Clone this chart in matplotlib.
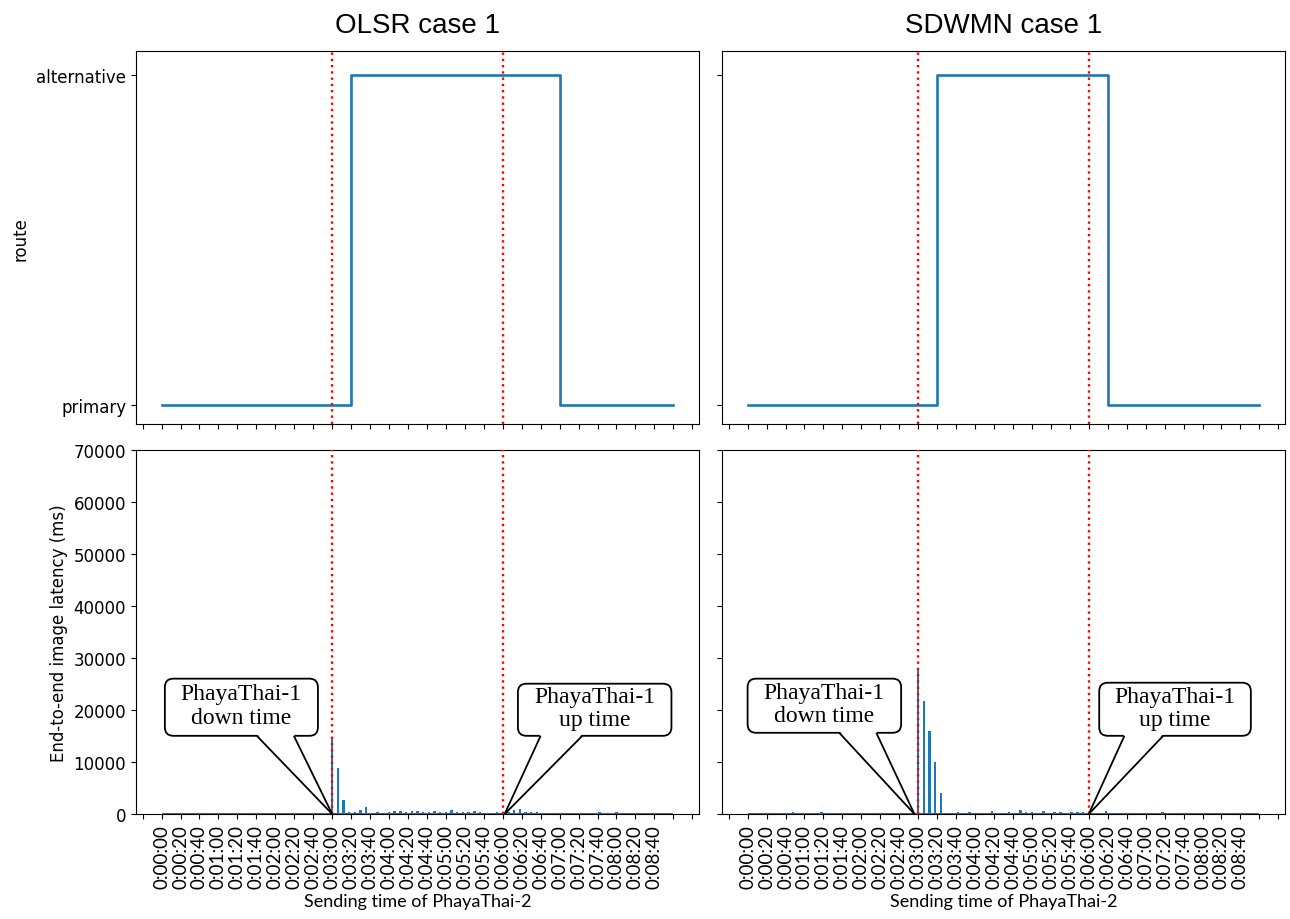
import numpy as np
import matplotlib
matplotlib.use("Agg")
import matplotlib.pyplot as plt
from matplotlib.patches import FancyBboxPatch, Polygon

# sending time of PhayaThai-2 (s) -- one image every 6 s
send_time = [
    0, 6, 12, 18, 24, 30, 36, 42, 48, 54,
    60, 66, 72, 78, 84, 90, 96, 102, 108, 114,
    120, 126, 132, 138, 144, 150, 156, 162, 168, 174,
    180, 186, 192, 198, 204, 210, 216, 222, 228, 234,
    240, 246, 252, 258, 264, 270, 276, 282, 288, 294,
    300, 306, 312, 318, 324, 330, 336, 342, 348, 354,
    360, 366, 372, 378, 384, 390, 396, 402, 408, 414,
    420, 426, 432, 438, 444, 450, 456, 462, 468, 474,
    480, 486, 492, 498, 504, 510, 516, 522, 528, 534,
    540,
]

# end-to-end image latency (ms)
olsr_latency = [
    100, 100, 100, 100, 100, 100, 100, 100, 100, 100,
    100, 100, 100, 100, 100, 100, 100, 100, 100, 100,
    100, 100, 100, 100, 100, 100, 100, 100, 100, 100,
    14800, 8800, 2750, 320, 320, 830, 1280, 250, 320, 150,
    320, 580, 520, 320, 520, 520, 380, 380, 640, 380,
    380, 700, 380, 320, 380, 520, 320, 150, 150, 320,
    150, 450, 770, 960, 320, 320, 320, 150, 150, 250,
    100, 100, 100, 100, 100, 100, 100, 300, 100, 100,
    300, 100, 100, 100, 100, 100, 100, 100, 100, 100,
    100,
]
sdwmn_latency = [
    100, 100, 100, 100, 100, 100, 100, 100, 300, 100,
    100, 100, 100, 300, 100, 100, 100, 100, 100, 100,
    100, 100, 100, 100, 100, 100, 100, 100, 100, 100,
    27900, 21800, 15900, 9950, 3980, 200, 200, 300, 100, 450,
    250, 100, 100, 640, 250, 250, 300, 100, 770, 300,
    300, 100, 580, 250, 300, 300, 100, 400, 400, 400,
    100, 100, 250, 510, 100, 100, 200, 100, 100, 100,
    250, 100, 100, 300, 100, 100, 100, 100, 250, 100,
    100, 100, 100, 100, 100, 100, 100, 100, 100, 100,
    100,
]

# route used (0 = primary, 1 = alternative), step changes
olsr_switch_t = [0, 200, 420, 540]
olsr_route = [0, 1, 0, 0]
sdwmn_switch_t = [0, 200, 380, 540]
sdwmn_route = [0, 1, 0, 0]
route_names = ["primary", "alternative"]

node_down_t = 180
node_up_t = 360

tick_t = list(range(-20, 561, 20))
BLUE = "#1f77b4"


def hms(s):
    if s < 0 or s > 520:
        return ""
    return f"{s // 3600}:{(s % 3600) // 60:02d}:{s % 60:02d}"


def callout(ax, text, box, base, tip):
    # box = (x0, x1, y0, y1) in data units, base = (xa, xb) on box bottom
    x0, x1, y0, y1 = box
    p = FancyBboxPatch((x0, y0), x1 - x0, y1 - y0,
                       boxstyle="round,pad=0,rounding_size=9", mutation_aspect=182,
                       fc="white", ec="black", lw=1.3, zorder=6)
    ax.add_patch(p)
    ax.add_patch(Polygon([(base[0], y0 + 350), (base[1], y0 + 350), tip],
                         closed=True, fc="white", ec="none", zorder=7))
    for bx in base:
        ax.plot([bx, tip[0]], [y0, tip[1]], color="black", lw=1.3, zorder=8,
                solid_capstyle="butt")
    ax.text((x0 + x1) / 2, (y0 + y1) / 2 + 300, text, ha="center", va="center",
            family="Liberation Serif", fontsize=17, linespacing=1.15, zorder=9)


fig = plt.figure(figsize=(12.9, 9.2), dpi=100)
lefts = [0.1054, 0.5597]
w = 0.4364
ax_top = [fig.add_axes([l, 0.538, w, 0.405]) for l in lefts]
ax_bot = [fig.add_axes([l, 0.1141, w, 0.3957]) for l in lefts]

titles = ["OLSR case 1", "SDWMN case 1"]
routes = [(olsr_switch_t, olsr_route), (sdwmn_switch_t, sdwmn_route)]
lats = [olsr_latency, sdwmn_latency]

for i in range(2):
    at, ab = ax_top[i], ax_bot[i]
    st, rv = routes[i]
    at.plot(st, rv, drawstyle="steps-post", color=BLUE, lw=1.9)
    at.set_ylim(-0.057, 1.07)
    at.set_yticks([0, 1])
    at.set_yticklabels(route_names, fontsize=12)
    at.set_title(titles[i], fontsize=20, family="Liberation Sans", pad=14)

    ab.bar(send_time, lats[i], width=2.6, color=BLUE, lw=0)
    ab.hlines(0, send_time[0], send_time[-1], color=BLUE, lw=1.5)
    ab.set_ylim(0, 70000)
    ab.set_yticks(range(0, 70001, 10000))
    ab.tick_params(axis="y", labelsize=12)

    for ax in (at, ab):
        ax.set_xlim(-27, 567)
        ax.axvline(node_down_t, color="red", ls=":", lw=1.7, zorder=4)
        ax.axvline(node_up_t, color="red", ls=":", lw=1.7, zorder=4)
        ax.set_xticks(tick_t)
    at.tick_params(labelbottom=False)
    ab.set_xticklabels([hms(s) for s in tick_t], rotation=90,
                       family="Lato", fontsize=13.5)
    ab.set_xlabel("Sending time of PhayaThai-2", family="Lato", fontsize=13)
    if i == 1:
        at.tick_params(labelleft=False)
        ab.tick_params(labelleft=False)

ax_top[0].set_ylabel("route", fontsize=12, labelpad=5)
ax_bot[0].set_ylabel("End-to-end image latency (ms)", fontsize=12)

callout(ax_bot[0], "PhayaThai-1\ndown time", (3.5, 165, 15040, 26030),
        (100.5, 139.6), (node_down_t, 0))
callout(ax_bot[0], "PhayaThai-1\nup time", (376, 538, 15040, 25060),
        (400, 444), (node_up_t + 2, 0))
callout(ax_bot[1], "PhayaThai-1\ndown time", (0, 162, 15620, 26030),
        (96.7, 135.8), (node_down_t - 4, 0))
callout(ax_bot[1], "PhayaThai-1\nup time", (371, 531, 15040, 25250),
        (397.6, 438.5), (node_up_t, 0))

fig.savefig("out.png", dpi=100)
